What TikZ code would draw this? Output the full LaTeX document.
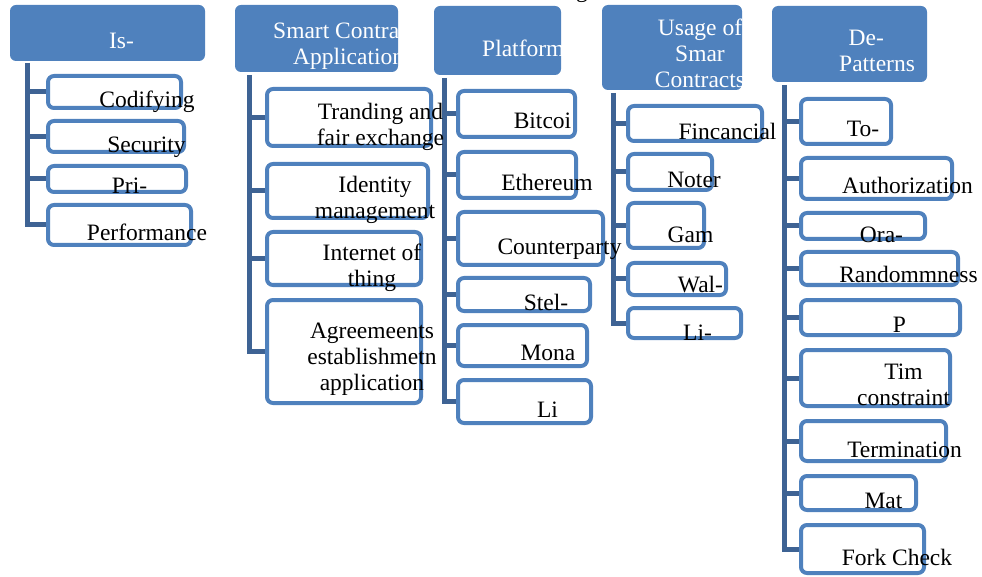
\documentclass[tikz,border=0pt]{standalone}
\usepackage{fontspec}
\setmainfont{Liberation Serif}
\usetikzlibrary{backgrounds}
\definecolor{hdr}{RGB}{79,129,189}
\definecolor{barc}{RGB}{62,99,148}
\newcommand\fsz{\fontsize{23.5}{26}\selectfont}
\begin{document}
\begin{tikzpicture}[x=1pt,y=-1pt,
  hbox/.style={fill=hdr, rounded corners=6pt, inner sep=0pt, draw=none},
  cbox/.style={draw=hdr, line width=4pt, fill=white, rounded corners=6pt, inner sep=0pt},
  txt/.style={inner sep=0pt, anchor=north, align=center, font=\fsz, execute at begin node=\strut},
  htxt/.style={txt, text=white},
  bar/.style={draw=barc, line width=5pt}]
\useasboundingbox (0,0) rectangle (982,577);
\node[txt, anchor=base west] (topg) at (576,-2) {g};
% headers
\node[hbox, minimum width=195pt, minimum height=56pt] (h1) at (107.5,33) {};
\node[hbox, minimum width=163pt, minimum height=67pt] (h2) at (316.5,38.5) {};
\node[hbox, minimum width=127pt, minimum height=69pt] (h3) at (497.5,40.5) {};
\node[hbox, minimum width=140pt, minimum height=85pt] (h4) at (672,47.5) {};
\node[hbox, minimum width=155pt, minimum height=76pt] (h5) at (849.5,44) {};
\node[htxt] (th1) at (121.5,30.3) {Is-};
\begin{scope}
\clip[rounded corners=6pt] (h2.south west) rectangle (h2.north east);
\node[htxt, anchor=north west, align=left] (th2) at (273,22.3) {Smart Contract\\\hspace*{20pt}Applications};
\end{scope}
\begin{scope}
\clip[rounded corners=6pt] (h3.south west) rectangle (h3.north east);
\node[htxt, anchor=north west] (th3) at (482,37.8) {Platforms};
\end{scope}
\begin{scope}
\clip[rounded corners=6pt] (h4.south west) rectangle (h4.north east);
\node[htxt] (th4) at (700,18.8) {Usage of\\Smar\\Contracts};
\end{scope}
\node[htxt, anchor=north west, align=left] (th5) at (839,29.8) {\hspace*{9.5pt}De-\\Patterns};
% column 1
\node[cbox, minimum width=133pt, minimum height=32pt] (c11) at (114.5,92) {};
\node[cbox, minimum width=136pt, minimum height=31pt] (c12) at (116,136.5) {};
\node[cbox, minimum width=138pt, minimum height=26pt] (c13) at (117,179) {};
\node[cbox, minimum width=143pt, minimum height=40pt] (c14) at (119.5,225) {};
% column 2
\node[cbox, minimum width=164pt, minimum height=57pt] (c21) at (349,117.5) {};
\node[cbox, minimum width=161pt, minimum height=54pt] (c22) at (347.5,191) {};
\node[cbox, minimum width=154pt, minimum height=53pt] (c23) at (344,258.5) {};
\node[cbox, minimum width=154pt, minimum height=103pt] (c24) at (344,351.5) {};
% column 3
\node[cbox, minimum width=117pt, minimum height=46pt] (c31) at (516.5,114) {};
\node[cbox, minimum width=118pt, minimum height=46pt] (c32) at (517,175) {};
\node[cbox, minimum width=145pt, minimum height=53pt] (c33) at (530.5,238.5) {};
\node[cbox, minimum width=132pt, minimum height=33pt] (c34) at (524,294.5) {};
\node[cbox, minimum width=129pt, minimum height=41pt] (c35) at (522.5,345.5) {};
\node[cbox, minimum width=133pt, minimum height=43pt] (c36) at (524.5,401.5) {};
% column 4
\node[cbox, minimum width=134pt, minimum height=35pt] (c41) at (695,123.5) {};
\node[cbox, minimum width=84pt, minimum height=36pt] (c42) at (670,172) {};
\node[cbox, minimum width=76pt, minimum height=45pt] (c43) at (666,225.5) {};
\node[cbox, minimum width=98pt, minimum height=32pt] (c44) at (677,279) {};
\node[cbox, minimum width=113pt, minimum height=30pt] (c45) at (684.5,323) {};
% column 5
\node[cbox, minimum width=90pt, minimum height=45pt] (c51) at (846,121.5) {};
\node[cbox, minimum width=151pt, minimum height=41pt] (c52) at (876.5,178.5) {};
\node[cbox, minimum width=124pt, minimum height=26pt] (c53) at (863,226) {};
\node[cbox, minimum width=157pt, minimum height=33pt] (c54) at (879.5,268.5) {};
\node[cbox, minimum width=159pt, minimum height=35pt] (c55) at (880.5,317.5) {};
\node[cbox, minimum width=149pt, minimum height=56pt] (c56) at (875.5,378) {};
\node[cbox, minimum width=145pt, minimum height=40pt] (c57) at (873.5,441) {};
\node[cbox, minimum width=115pt, minimum height=34pt] (c58) at (858.5,493) {};
\node[cbox, minimum width=123pt, minimum height=48pt] (c59) at (862.5,549) {};
% texts
\node[txt] (t11) at (147,88.8) {Codifying};
\node[txt] (t12) at (146.5,133.8) {Security};
\node[txt] (t13) at (129.5,175.3) {Pri-};
\node[txt] (t14) at (147,222.3) {Performance};
\node[txt] (t21) at (380.5,103.3) {Tranding and\\fair exchange};
\node[txt] (t22) at (375,175.8) {Identity\\management};
\node[txt] (t23) at (372,243.8) {Internet of\\thing};
\node[txt] (t24) at (372,322.3) {Agreemeents\\establishmetn\\application};
\node[txt] (t31) at (542.5,110.3) {Bitcoi};
\node[txt] (t32) at (547,172.3) {Ethereum};
\node[txt] (t33) at (559.5,236.3) {Counterparty};
\node[txt] (t34) at (546,292.3) {Stel-};
\node[txt] (t35) at (548,342.3) {Mona};
\node[txt] (t36) at (547.5,398.8) {Li};
\node[txt] (t41) at (727.5,121.3) {Fincancial};
\node[txt] (t42) at (694,168.8) {Noter};
\node[txt] (t43) at (690.5,223.8) {Gam};
\node[txt] (t44) at (700.5,274.3) {Wal-};
\node[txt] (t45) at (697.5,322.3) {Li-};
\node[txt] (t51) at (863,117.8) {To-};
\node[txt] (t52) at (907.5,175.3) {Authorization};
\node[txt] (t53) at (881.5,223.8) {Ora-};
\node[txt] (t54) at (908.5,263.8) {Randommness};
\node[txt] (t55) at (899.5,314.3) {P};
\node[txt] (t56) at (903.5,363.3) {Tim\\constraint};
\node[txt] (t57) at (904.5,438.8) {Termination};
\node[txt] (t58) at (883.5,490.3) {Mat};
\node[txt] (t59) at (897,547.3) {Fork Check};
% tree bars
\coordinate (b1) at (27.5,63);
\coordinate (b2) at (249.5,75);
\coordinate (b3) at (444.5,78);
\coordinate (b4) at (613.5,93);
\coordinate (b5) at (784,85);
\begin{pgfonlayer}{background}
\draw[bar] (b1) |- (c14.west);
\foreach \n in {c11,c12,c13} \draw[bar] (b1 |- \n.west) -- (\n.west);
\draw[bar] (b2) |- (c24.west);
\foreach \n in {c21,c22,c23} \draw[bar] (b2 |- \n.west) -- (\n.west);
\draw[bar] (b3) |- (c36.west);
\foreach \n in {c31,c32,c33,c34,c35} \draw[bar] (b3 |- \n.west) -- (\n.west);
\draw[bar] (b4) |- (c45.west);
\foreach \n in {c41,c42,c43,c44} \draw[bar] (b4 |- \n.west) -- (\n.west);
\draw[bar] (b5) |- (c59.west);
\foreach \n in {c51,c52,c53,c54,c55,c56,c57,c58} \draw[bar] (b5 |- \n.west) -- (\n.west);
\end{pgfonlayer}
\end{tikzpicture}
\end{document}
